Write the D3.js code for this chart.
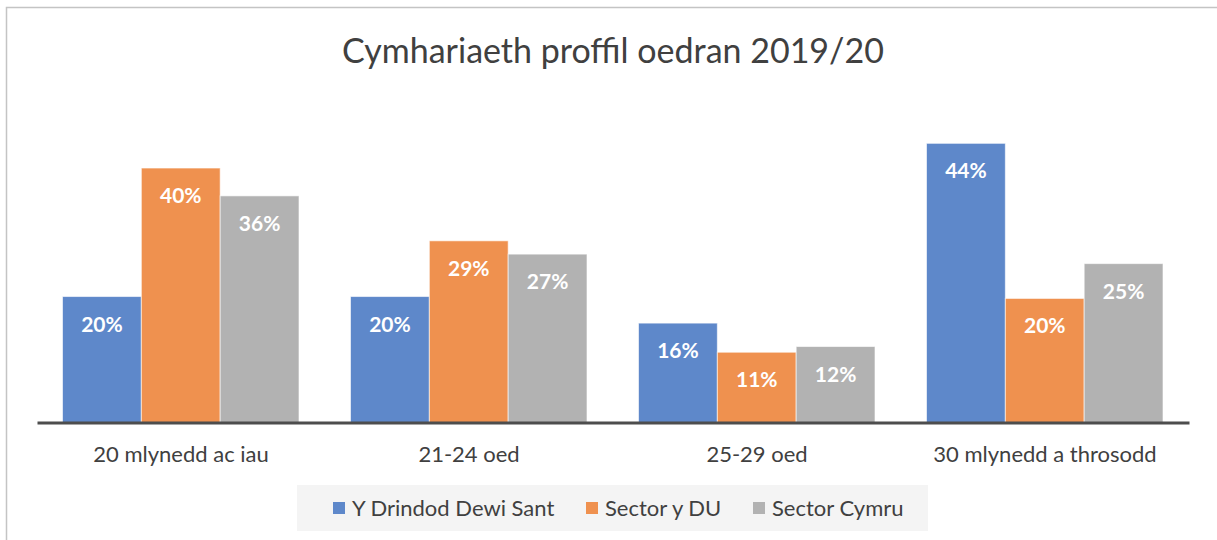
<!DOCTYPE html>
<html>
<head>
<meta charset="utf-8">
<script src="https://cdn.jsdelivr.net/npm/d3@7/dist/d3.min.js"></script>
<style>
  body { margin: 0; background: #fff; }
  text { font-family: Lato, "Open Sans", sans-serif; }
</style>
</head>
<body>
<svg class="chart" width="1217" height="540"></svg>
<script>
const categories = ['20 mlynedd ac iau', '21-24 oed', '25-29 oed', '30 mlynedd a throsodd'];
const seriesNames = ['Y Drindod Dewi Sant', 'Sector y DU', 'Sector Cymru'];
const drindod = [19.9, 19.9, 15.7, 44.1];
const sectorDU = [40.2, 28.7, 11.1, 19.6];
const sectorCymru = [35.8, 26.6, 12.0, 25.1];
const colors = ['#5e88ca', '#ef914f', '#b2b2b2'];

const svg = d3.select('.chart');

// chart frame (cropped on the right and bottom)
svg.append('rect')
  .attr('x', 6.5).attr('y', 7.5)
  .attr('width', 1300).attr('height', 600)
  .attr('fill', '#fff')
  .attr('stroke', '#c4c4c4')
  .attr('stroke-width', 1.5);

svg.append('text')
  .attr('x', 613).attr('y', 63)
  .attr('text-anchor', 'middle')
  .attr('font-size', 34)
  .attr('fill', '#404040')
  .text('Cymhariaeth proffil oedran 2019/20');

const plot = { left: 37, right: 1189, top: 106, bottom: 422.5 };

const x0 = d3.scaleBand().domain(categories).range([plot.left, plot.right]);
const x1 = d3.scaleBand().domain(seriesNames).range([25.5, 262]);
const y = d3.scaleLinear().domain([0, 50]).range([plot.bottom, plot.top]);

const rows = categories.map((c, i) => ({
  category: c,
  values: [drindod[i], sectorDU[i], sectorCymru[i]].map((v, j) => ({ name: seriesNames[j], value: v, color: colors[j] }))
}));

const groups = svg.append('g')
  .selectAll('g')
  .data(rows)
  .enter()
  .append('g')
  .attr('transform', d => `translate(${x0(d.category)},0)`);

groups.selectAll('rect')
  .data(d => d.values)
  .enter()
  .append('rect')
  .attr('x', d => x1(d.name))
  .attr('y', d => y(d.value))
  .attr('width', x1.bandwidth())
  .attr('height', d => y(0) - y(d.value))
  .attr('fill', d => d.color)
  .attr('stroke', '#ffffff')
  .attr('stroke-opacity', 0.6)
  .attr('stroke-width', 1);

groups.selectAll('text')
  .data(d => d.values)
  .enter()
  .append('text')
  .attr('x', d => x1(d.name) + x1.bandwidth() / 2)
  .attr('y', d => y(d.value) + 35)
  .attr('text-anchor', 'middle')
  .attr('font-size', 21)
  .attr('font-weight', 'bold')
  .attr('fill', '#ffffff')
  .text(d => Math.round(d.value) + '%');

// baseline + category labels
const xAxis = svg.append('g')
  .attr('transform', `translate(0,${plot.bottom})`)
  .call(d3.axisBottom(x0).tickSize(0).tickPadding(24));
xAxis.select('.domain').attr('stroke', '#4d4d4d').attr('stroke-width', 3);
xAxis.selectAll('text')
  .attr('font-size', 22)
  .attr('font-family', 'Lato, "Open Sans", sans-serif')
  .attr('fill', '#404040');

// legend
const legend = svg.append('g');
legend.append('rect')
  .attr('x', 297).attr('y', 485)
  .attr('width', 631).attr('height', 46)
  .attr('fill', '#f4f4f4');

const legendX = [333, 586, 753];
const items = legend.selectAll('g.item')
  .data(seriesNames)
  .enter()
  .append('g')
  .attr('class', 'item')
  .attr('transform', (d, i) => `translate(${legendX[i]},502)`);
items.append('rect')
  .attr('width', 12).attr('height', 12)
  .attr('fill', (d, i) => colors[i]);
items.append('text')
  .attr('x', 19).attr('y', 14)
  .attr('font-size', 22)
  .attr('fill', '#404040')
  .text(d => d);
</script>
</body>
</html>
